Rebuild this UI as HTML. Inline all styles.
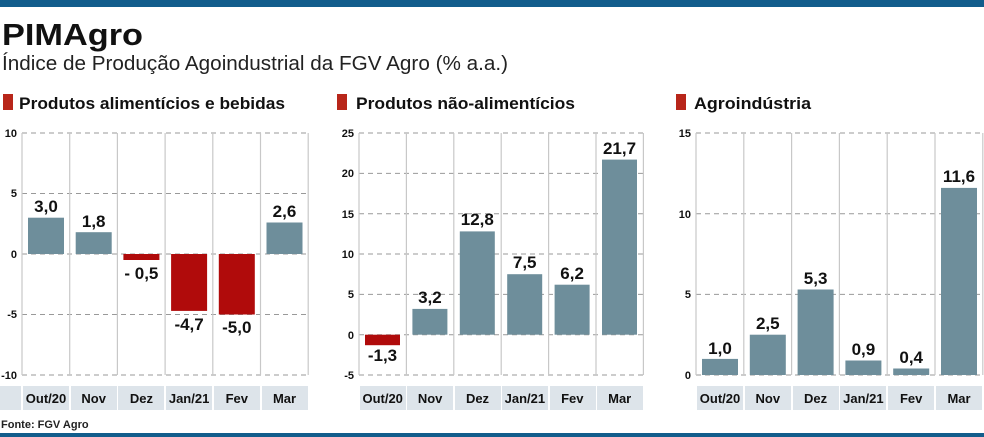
<!DOCTYPE html>
<html><head><meta charset="utf-8"><style>
html,body{margin:0;padding:0;background:#fff;width:984px;height:437px;overflow:hidden}
svg{display:block}
text{font-family:"Liberation Sans",sans-serif}
.t{font-size:11px;font-weight:bold;fill:#111;text-anchor:end}
.v{font-size:17px;font-weight:bold;fill:#111;text-anchor:middle}
.c{font-size:13px;font-weight:bold;fill:#111;text-anchor:middle}
.g{stroke:#999;stroke-width:1;stroke-dasharray:5,4}
.vl{stroke:#c8c8c8;stroke-width:1.2}
.b{fill:#6e8e9b}
.r{fill:#b00b0b}
.cell{fill:#dde4ea}
</style></head><body>
<svg width="984" height="437" viewBox="0 0 984 437">
<rect x="0" y="0" width="984" height="7" fill="#125d8c"/>
<rect x="0" y="433" width="984" height="4" fill="#125d8c"/>
<text x="2" y="45" font-size="31" font-weight="bold" fill="#111" textLength="141" lengthAdjust="spacingAndGlyphs">PIMAgro</text>
<text x="2" y="70" font-size="20" fill="#222" textLength="506" lengthAdjust="spacingAndGlyphs">Índice de Produção Agoindustrial da FGV Agro (% a.a.)</text>
<rect x="3" y="94" width="10" height="16" fill="#b8261a"/>
<text x="19" y="109" font-size="17" font-weight="bold" fill="#111" textLength="266" lengthAdjust="spacingAndGlyphs">Produtos alimentícios e bebidas</text>
<rect x="337" y="94" width="10" height="16" fill="#b8261a"/>
<text x="356" y="109" font-size="17" font-weight="bold" fill="#111" textLength="219" lengthAdjust="spacingAndGlyphs">Produtos não-alimentícios</text>
<rect x="676" y="94" width="10" height="16" fill="#b8261a"/>
<text x="694" y="109" font-size="17" font-weight="bold" fill="#111" textLength="117" lengthAdjust="spacingAndGlyphs">Agroindústria</text>

<!-- Chart 1 -->
<g>
<rect class="cell" x="0" y="386" width="21" height="24"/>
<rect class="cell" x="23" y="386" width="46" height="24"/><rect class="cell" x="71" y="386" width="46" height="24"/><rect class="cell" x="118" y="386" width="46" height="24"/><rect class="cell" x="166" y="386" width="46" height="24"/><rect class="cell" x="214" y="386" width="46" height="24"/><rect class="cell" x="262" y="386" width="46" height="24"/>
<line class="g" x1="22" x2="308" y1="133" y2="133"/><line class="g" x1="22" x2="308" y1="193.5" y2="193.5"/><line class="g" x1="22" x2="308" y1="254" y2="254"/><line class="g" x1="22" x2="308" y1="314.5" y2="314.5"/><line class="g" x1="22" x2="308" y1="375" y2="375"/>
<line class="vl" x1="22" x2="22" y1="133" y2="375"/><line class="vl" x1="69.7" x2="69.7" y1="133" y2="375"/><line class="vl" x1="117.4" x2="117.4" y1="133" y2="375"/><line class="vl" x1="165.1" x2="165.1" y1="133" y2="375"/><line class="vl" x1="212.8" x2="212.8" y1="133" y2="375"/><line class="vl" x1="260.5" x2="260.5" y1="133" y2="375"/><line class="vl" x1="308.2" x2="308.2" y1="133" y2="375"/>
<text class="t" x="17" y="137">10</text><text class="t" x="17" y="197">5</text><text class="t" x="17" y="258">0</text><text class="t" x="17" y="318">-5</text><text class="t" x="17" y="379">-10</text>
<rect class="b" x="28" y="217.7" width="36" height="36.3"/><rect class="b" x="75.7" y="232.2" width="36" height="21.8"/><rect class="r" x="123.4" y="254" width="36" height="6"/><rect class="r" x="171.1" y="254" width="36" height="56.9"/><rect class="r" x="218.8" y="254" width="36" height="60.5"/><rect class="b" x="266.5" y="222.5" width="36" height="31.5"/>
<text class="v" x="46" y="212">3,0</text><text class="v" x="93.7" y="227">1,8</text><text class="v" x="141.4" y="279">- 0,5</text><text class="v" x="189.1" y="330">-4,7</text><text class="v" x="236.8" y="333">-5,0</text><text class="v" x="284.5" y="217">2,6</text>
<text class="c" x="46" y="403">Out/20</text><text class="c" x="93.7" y="403">Nov</text><text class="c" x="141.4" y="403">Dez</text><text class="c" x="189.1" y="403">Jan/21</text><text class="c" x="236.8" y="403">Fev</text><text class="c" x="284.5" y="403">Mar</text>
</g>

<!-- Chart 2 -->
<g>
<rect class="cell" x="360" y="386" width="46" height="24"/><rect class="cell" x="407" y="386" width="46" height="24"/><rect class="cell" x="455" y="386" width="46" height="24"/><rect class="cell" x="502" y="386" width="46" height="24"/><rect class="cell" x="550" y="386" width="46" height="24"/><rect class="cell" x="597" y="386" width="46" height="24"/>
<line class="g" x1="359" x2="643" y1="133" y2="133"/><line class="g" x1="359" x2="643" y1="173.4" y2="173.4"/><line class="g" x1="359" x2="643" y1="213.7" y2="213.7"/><line class="g" x1="359" x2="643" y1="254" y2="254"/><line class="g" x1="359" x2="643" y1="294.4" y2="294.4"/><line class="g" x1="359" x2="643" y1="334.7" y2="334.7"/><line class="g" x1="359" x2="643" y1="375" y2="375"/>
<line class="vl" x1="359" x2="359" y1="133" y2="375"/><line class="vl" x1="406.4" x2="406.4" y1="133" y2="375"/><line class="vl" x1="453.8" x2="453.8" y1="133" y2="375"/><line class="vl" x1="501.2" x2="501.2" y1="133" y2="375"/><line class="vl" x1="548.6" x2="548.6" y1="133" y2="375"/><line class="vl" x1="596" x2="596" y1="133" y2="375"/><line class="vl" x1="643.4" x2="643.4" y1="133" y2="375"/>
<text class="t" x="354" y="137">25</text><text class="t" x="354" y="177">20</text><text class="t" x="354" y="218">15</text><text class="t" x="354" y="258">10</text><text class="t" x="354" y="298">5</text><text class="t" x="354" y="339">0</text><text class="t" x="354" y="379">-5</text>
<rect class="r" x="365" y="334.7" width="35" height="10.5"/><rect class="b" x="412.4" y="308.9" width="35" height="25.8"/><rect class="b" x="459.8" y="231.4" width="35" height="103.3"/><rect class="b" x="507.2" y="274.2" width="35" height="60.5"/><rect class="b" x="554.6" y="284.7" width="35" height="50"/><rect class="b" x="602" y="159.6" width="35" height="175.1"/>
<text class="v" x="382.5" y="361">-1,3</text><text class="v" x="429.9" y="303">3,2</text><text class="v" x="477.3" y="225">12,8</text><text class="v" x="524.7" y="268">7,5</text><text class="v" x="572.1" y="279">6,2</text><text class="v" x="619.5" y="154">21,7</text>
<text class="c" x="382.7" y="403">Out/20</text><text class="c" x="430.1" y="403">Nov</text><text class="c" x="477.5" y="403">Dez</text><text class="c" x="524.9" y="403">Jan/21</text><text class="c" x="572.3" y="403">Fev</text><text class="c" x="619.7" y="403">Mar</text>
</g>

<!-- Chart 3 -->
<g>
<rect class="cell" x="697" y="386" width="46" height="24"/><rect class="cell" x="745" y="386" width="46" height="24"/><rect class="cell" x="793" y="386" width="46" height="24"/><rect class="cell" x="840" y="386" width="46" height="24"/><rect class="cell" x="888" y="386" width="46" height="24"/><rect class="cell" x="936" y="386" width="46" height="24"/>
<line class="g" x1="696" x2="983" y1="133" y2="133"/><line class="g" x1="696" x2="983" y1="213.7" y2="213.7"/><line class="g" x1="696" x2="983" y1="294.4" y2="294.4"/><line class="g" x1="696" x2="983" y1="375" y2="375"/>
<line class="vl" x1="696" x2="696" y1="133" y2="375"/><line class="vl" x1="743.8" x2="743.8" y1="133" y2="375"/><line class="vl" x1="791.6" x2="791.6" y1="133" y2="375"/><line class="vl" x1="839.4" x2="839.4" y1="133" y2="375"/><line class="vl" x1="887.2" x2="887.2" y1="133" y2="375"/><line class="vl" x1="935" x2="935" y1="133" y2="375"/><line class="vl" x1="982.8" x2="982.8" y1="133" y2="375"/>
<text class="t" x="691" y="137">15</text><text class="t" x="691" y="218">10</text><text class="t" x="691" y="298">5</text><text class="t" x="691" y="379">0</text>
<rect class="b" x="702" y="358.9" width="36" height="16.1"/><rect class="b" x="749.8" y="334.7" width="36" height="40.3"/><rect class="b" x="797.6" y="289.5" width="36" height="85.5"/><rect class="b" x="845.4" y="360.5" width="36" height="14.5"/><rect class="b" x="893.2" y="368.5" width="36" height="6.5"/><rect class="b" x="941" y="187.9" width="36" height="187.1"/>
<text class="v" x="720" y="354">1,0</text><text class="v" x="767.8" y="329">2,5</text><text class="v" x="815.6" y="284">5,3</text><text class="v" x="863.4" y="355">0,9</text><text class="v" x="911.2" y="363">0,4</text><text class="v" x="959" y="182">11,6</text>
<text class="c" x="720" y="403">Out/20</text><text class="c" x="767.8" y="403">Nov</text><text class="c" x="815.6" y="403">Dez</text><text class="c" x="863.4" y="403">Jan/21</text><text class="c" x="911.2" y="403">Fev</text><text class="c" x="959" y="403">Mar</text>
</g>
<text x="1" y="428" font-size="11" font-weight="bold" fill="#222">Fonte: FGV Agro</text>
</svg>
</body></html>
